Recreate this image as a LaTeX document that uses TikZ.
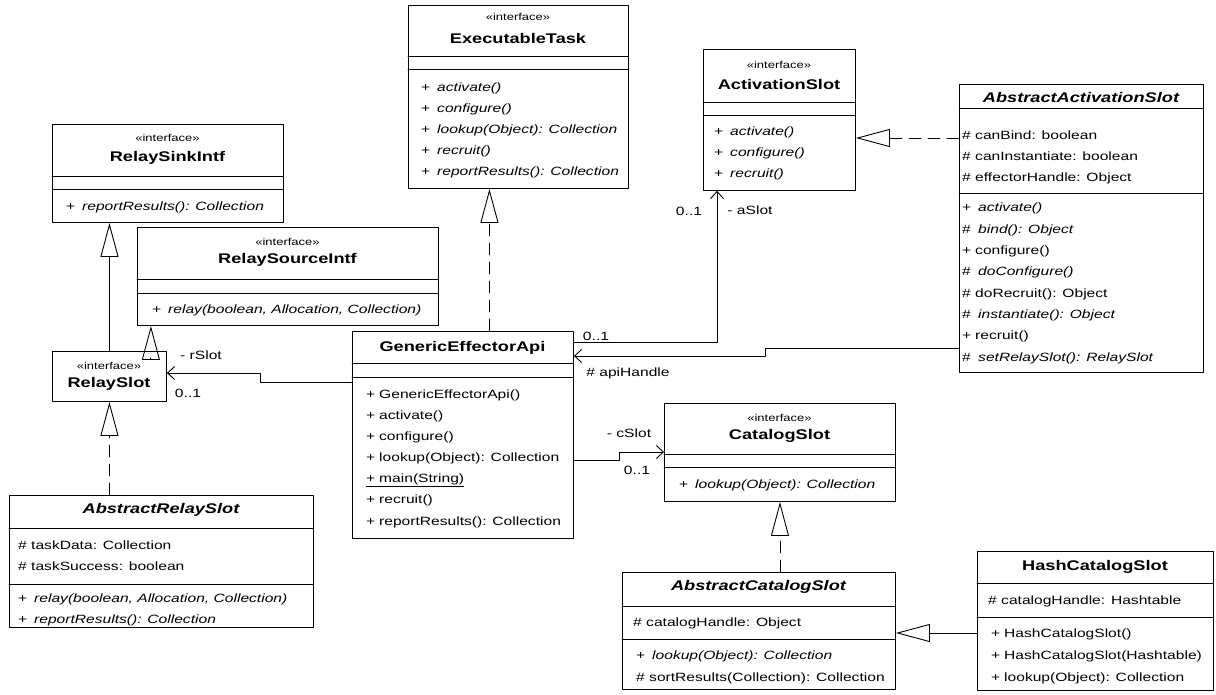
\documentclass[tikz,border=0pt]{standalone}
\usepackage{fontspec}
\setmainfont[FakeStretch=1.3]{Liberation Sans}
\usepackage{tikz}
\usetikzlibrary{arrows.meta}

\newcommand{\umlop}[2]{\makebox[13pt][l]{#1}#2}
\newcommand{\umlabs}[2]{\makebox[16pt][l]{#1}\textit{#2}}

\begin{document}
\begin{tikzpicture}[line cap=round,line join=round,x=1pt,y=-1pt,
  box/.style={draw,line width=0.9pt,anchor=north west,inner sep=0pt},
  cname/.style={inner sep=0pt,font=\fontsize{14}{16}\selectfont\bfseries},
  stereo/.style={inner sep=0pt,font=\fontsize{10}{11}\selectfont},
  mem/.style={inner sep=0pt,anchor=base west,align=left,font=\fontsize{12}{21}\selectfont},
  lbl/.style={inner sep=0pt,font=\fontsize{12}{14}\selectfont},
  sep/.style={line width=0.9pt},
  gen/.style={line width=0.9pt,-{Triangle[open,length=34pt,width=18pt]}},
  realize/.style={gen,dash pattern=on 12pt off 7pt},
  assoc/.style={line width=0.9pt,-{Straight Barb[length=7pt,width=13pt]}}]
\useasboundingbox (0,0) rectangle (1216,694);
% member lists are placed at the baseline of their last line

% ExecutableTask
\node[box,minimum width=220,minimum height=183] (exec) at (408,5) {};
\node[stereo] (execS) at (518,17) {«interface»};
\node[cname] (execN) at (518,38) {ExecutableTask};
\draw[sep] (408,56) -- (628,56) (408,69) -- (628,69);
\node[mem] (execM) at (421,175) {\umlabs{+}{activate()}\\ \umlabs{+}{configure()}\\
  \umlabs{+}{lookup(Object): Collection}\\ \umlabs{+}{recruit()}\\
  \umlabs{+}{reportResults(): Collection}};

% ActivationSlot
\node[box,minimum width=152,minimum height=141] (act) at (703,49) {};
\node[stereo] (actS) at (779,65) {«interface»};
\node[cname] (actN) at (779,84) {ActivationSlot};
\draw[sep] (703,102) -- (855,102) (703,115) -- (855,115);
\node[mem] (actM) at (714,177) {\umlabs{+}{activate()}\\ \umlabs{+}{configure()}\\
  \umlabs{+}{recruit()}};

% AbstractActivationSlot
\node[box,minimum width=244,minimum height=288] (aact) at (959,84) {};
\node[cname] (aactN) at (1081,97) {\itshape AbstractActivationSlot};
\draw[sep] (959,108) -- (1203,108) (959,193) -- (1203,193);
\node[mem] (aactA) at (962,181.5) {\# canBind: boolean\\ \# canInstantiate: boolean\\
  \# effectorHandle: Object};
\node[mem,font=\fontsize{12}{21.3}\selectfont] (aactM) at (962,361) {\umlabs{+}{activate()}\\
  \umlabs{\#}{bind(): Object}\\ \umlop{+}{configure()}\\ \umlabs{\#}{doConfigure()}\\
  \umlop{\#}{doRecruit(): Object}\\ \umlabs{\#}{instantiate(): Object}\\
  \umlop{+}{recruit()}\\ \umlabs{\#}{setRelaySlot(): RelaySlot}};

% RelaySinkIntf
\node[box,minimum width=231,minimum height=98] (sink) at (52,124) {};
\node[stereo] (sinkS) at (167.5,138) {«interface»};
\node[cname] (sinkN) at (167.5,158) {RelaySinkIntf};
\draw[sep] (52,176) -- (283,176) (52,189) -- (283,189);
\node[mem] (sinkM) at (66,210) {\umlabs{+}{reportResults(): Collection}};

% RelaySourceIntf
\node[box,minimum width=301,minimum height=98] (src) at (137,227) {};
\node[stereo] (srcS) at (287.5,242) {«interface»};
\node[cname] (srcN) at (287.5,260) {RelaySourceIntf};
\draw[sep] (137,279) -- (438,279) (137,293) -- (438,293);
\node[mem] (srcM) at (152,313) {\umlabs{+}{relay(boolean, Allocation, Collection)}};

% RelaySlot
\node[box,minimum width=114,minimum height=50] (rslot) at (52,351) {};
\node[stereo] (rslotS) at (109,366) {«interface»};
\node[cname] (rslotN) at (109,384) {RelaySlot};

% AbstractRelaySlot
\node[box,minimum width=304,minimum height=132] (arslot) at (9,495) {};
\node[cname] (arslotN) at (161,510) {\itshape AbstractRelaySlot};
\draw[sep] (9,528) -- (313,528) (9,584) -- (313,584);
\node[mem] (arslotA) at (18,570) {\# taskData: Collection\\ \# taskSuccess: boolean};
\node[mem] (arslotM) at (18,623) {\umlabs{+}{relay(boolean, Allocation, Collection)}\\
  \umlabs{+}{reportResults(): Collection}};

% GenericEffectorApi
\node[box,minimum width=221,minimum height=207] (gea) at (352,331) {};
\node[cname] (geaN) at (462.5,348) {GenericEffectorApi};
\draw[sep] (352,363) -- (573,363) (352,377) -- (573,377);
\node[mem,font=\fontsize{12}{21.1}\selectfont] (geaM) at (366,525) {\umlop{+}{GenericEffectorApi()}\\
  \umlop{+}{activate()}\\ \umlop{+}{configure()}\\ \umlop{+}{lookup(Object): Collection}\\
  \underline{\umlop{+}{main(String)}}\\ \umlop{+}{recruit()}\\
  \umlop{+}{reportResults(): Collection}};

% CatalogSlot
\node[box,minimum width=231,minimum height=98] (cat) at (664,403) {};
\node[stereo] (catS) at (779.5,418) {«interface»};
\node[cname] (catN) at (779.5,436) {CatalogSlot};
\draw[sep] (664,454) -- (895,454) (664,467) -- (895,467);
\node[mem] (catM) at (679,488.5) {\umlabs{+}{lookup(Object): Collection}};

% AbstractCatalogSlot
\node[box,minimum width=273,minimum height=117] (acat) at (622,572) {};
\node[cname] (acatN) at (758.5,587) {\itshape AbstractCatalogSlot};
\draw[sep] (622,606) -- (895,606) (622,639) -- (895,639);
\node[mem] (acatA) at (633,626) {\# catalogHandle: Object};
\node[mem,font=\fontsize{12}{21.5}\selectfont] (acatM) at (636,681) {\umlabs{+}{lookup(Object): Collection}\\
  \umlop{\#}{sortResults(Collection): Collection}};

% HashCatalogSlot
\node[box,minimum width=236,minimum height=139] (hash) at (977,551) {};
\node[cname] (hashN) at (1095,567) {HashCatalogSlot};
\draw[sep] (977,583) -- (1213,583) (977,617) -- (1213,617);
\node[mem] (hashA) at (988,604.5) {\# catalogHandle: Hashtable};
\node[mem,font=\fontsize{12}{22}\selectfont] (hashM) at (991,681.5) {\umlop{+}{HashCatalogSlot()}\\
  \umlop{+}{HashCatalogSlot(Hashtable)}\\ \umlop{+}{lookup(Object): Collection}};

% inheritance and realization
\coordinate (rsrc) at ([xshift=-16pt]rslot.north east);
\coordinate (gx) at ([xshift=26.5pt]gea.north);
\coordinate (aa) at ([yshift=-54pt]aact.north west);
\coordinate (hc) at ([yshift=-82pt]hash.north west);
\draw[gen] (rslot.north) -- (rslot.north |- sink.south);
\draw[gen] ([yshift=-7pt]rsrc) -- (rsrc |- src.south);
\draw[realize] (rslot.south |- arslot.north) -- (rslot.south);
\draw[realize] (gx) -- (gx |- exec.south);
\draw[realize] (aa) -- (aa -| act.east);
\draw[realize] (cat.south |- acat.north) -- (cat.south);
\draw[gen] (hc) -- (hc -| acat.east);

% associations
\coordinate (ga) at ([yshift=-11pt]gea.north east);
\coordinate (ag) at ([xshift=14pt]act.south west);
\coordinate (ah) at ([yshift=-264pt]aact.north west);
\coordinate (ha) at ([yshift=-25pt]gea.north east);
\coordinate (gc) at ([yshift=-129pt]gea.north east);
\coordinate (cg) at ([yshift=-49pt]cat.north west);
\coordinate (gr) at ([yshift=-51pt]gea.north west);
\coordinate (rg) at ([yshift=-22pt]rslot.north east);
\draw[assoc] (ga) -| (ag);
\draw[assoc] (ah) -- ++(-194,0) |- (ha);
\draw[assoc] (gc) -- ++(46,0) |- (cg);
\draw[assoc] (gr) -- ++(-92,0) |- (rg);

\node[lbl] (aMul1) at (596,336) {0..1};
\node[lbl] (aMul2) at (689,211) {0..1};
\node[lbl] (aRole) at (750,210) {- aSlot};
\node[lbl] (apiRole) at (628,373) {\# apiHandle};
\node[lbl] (cRole) at (629,433) {- cSlot};
\node[lbl] (cMul) at (637,470) {0..1};
\node[lbl] (rRole) at (201,355) {- rSlot};
\node[lbl] (rMul) at (188,393) {0..1};
\end{tikzpicture}
\end{document}
